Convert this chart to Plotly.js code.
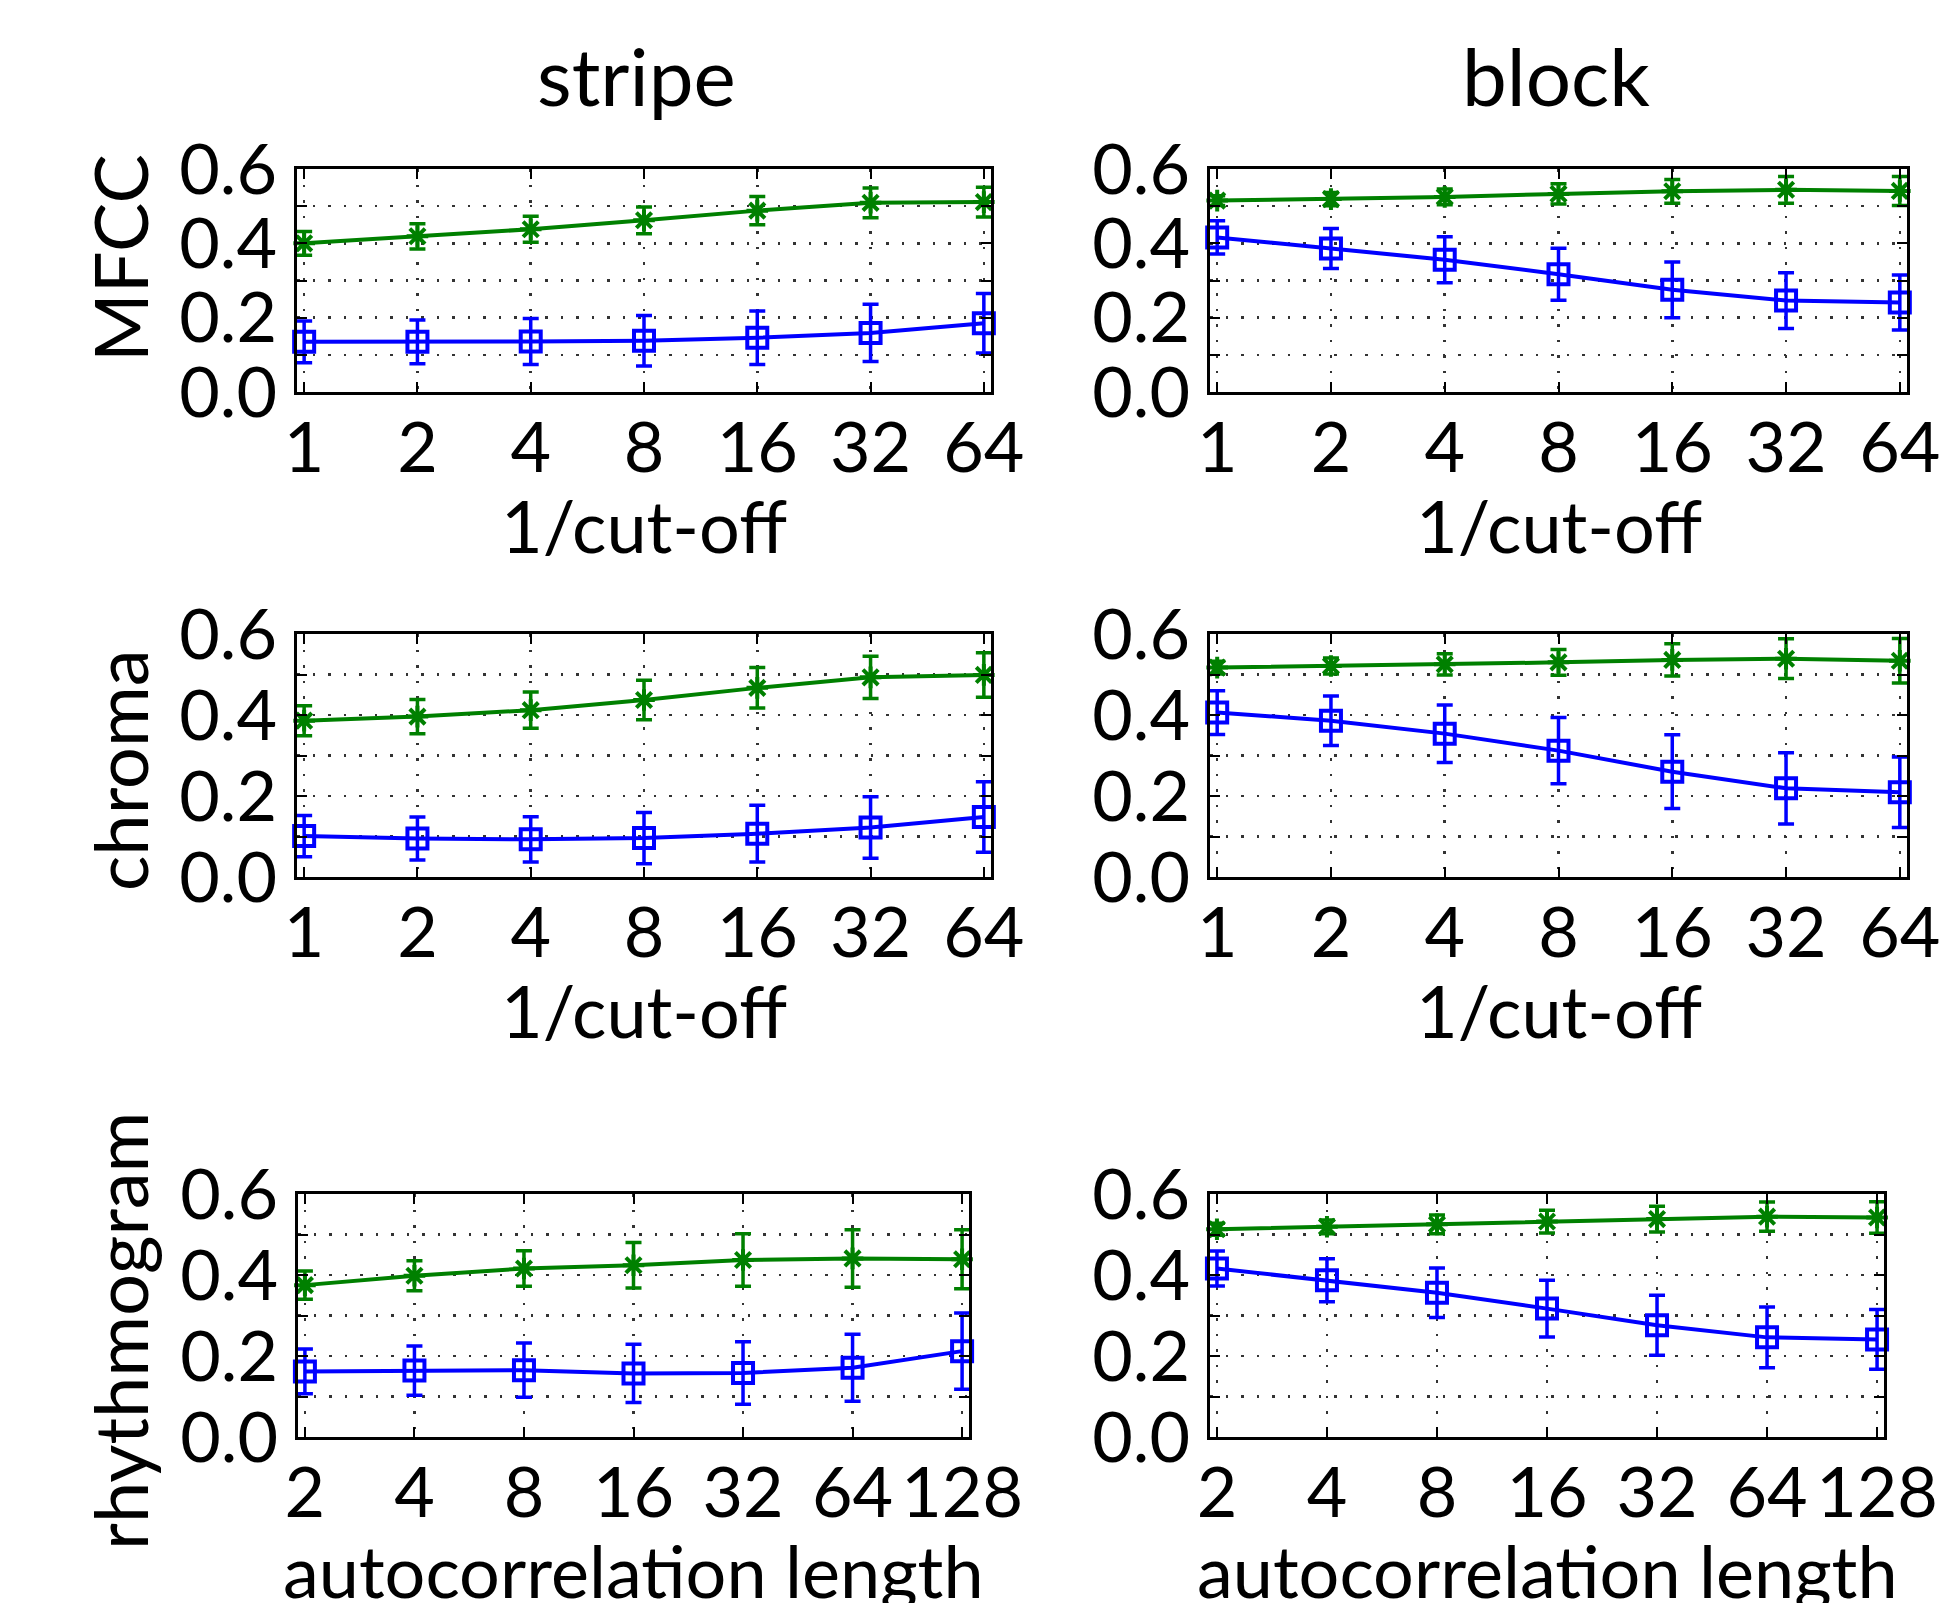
<!DOCTYPE html>
<html>
<head>
<meta charset="utf-8">
<script src="https://cdn.plot.ly/plotly-3.0.1.min.js"></script>
<style>html,body{margin:0;padding:0;background:#fff;}#plot{width:1943px;height:1603px;}</style>
</head>
<body>
<div id="plot"></div>
<script>
// ---- data ----
const cutoffX = [1, 2, 4, 8, 16, 32, 64];
const cutoffLabels = ['1', '2', '4', '8', '16', '32', '64'];
const autoX = [2, 4, 8, 16, 32, 64, 128];
const autoLabels = ['2', '4', '8', '16', '32', '64', '128'];
const yTickVals = [0, 0.1, 0.2, 0.3, 0.4, 0.5, 0.6];
const yTickLabels = ['0.0', '', '0.2', '', '0.4', '', '0.6'];

const columnTitles = ['stripe', 'block'];
const rowTitles = ['MFCC', 'chroma', 'rhythmogram'];
const xTitles = ['1/cut-off', '1/cut-off', 'autocorrelation length'];

// MFCC
const mfccStripeGreen = [0.400, 0.419, 0.438, 0.462, 0.488, 0.509, 0.511];
const mfccStripeGreenErr = [0.032, 0.034, 0.035, 0.036, 0.038, 0.040, 0.040];
const mfccStripeBlue = [0.135, 0.135, 0.136, 0.138, 0.146, 0.159, 0.185];
const mfccStripeBlueErr = [0.056, 0.059, 0.062, 0.068, 0.072, 0.077, 0.080];
const mfccBlockGreen = [0.515, 0.519, 0.525, 0.533, 0.540, 0.544, 0.541];
const mfccBlockGreenErr = [0.013, 0.018, 0.021, 0.027, 0.032, 0.036, 0.039];
const mfccBlockBlue = [0.416, 0.386, 0.356, 0.317, 0.275, 0.246, 0.241];
const mfccBlockBlueErr = [0.045, 0.054, 0.062, 0.070, 0.075, 0.075, 0.074];
// chroma
const chromaStripeGreen = [0.386, 0.396, 0.412, 0.437, 0.467, 0.493, 0.499];
const chromaStripeGreenErr = [0.037, 0.042, 0.045, 0.049, 0.050, 0.052, 0.055];
const chromaStripeBlue = [0.101, 0.095, 0.093, 0.096, 0.107, 0.122, 0.148];
const chromaStripeBlueErr = [0.051, 0.053, 0.056, 0.063, 0.070, 0.076, 0.087];
const chromaBlockGreen = [0.517, 0.521, 0.525, 0.530, 0.536, 0.539, 0.534];
const chromaBlockGreenErr = [0.016, 0.020, 0.026, 0.032, 0.040, 0.049, 0.055];
const chromaBlockBlue = [0.406, 0.386, 0.354, 0.312, 0.260, 0.219, 0.209];
const chromaBlockBlueErr = [0.054, 0.061, 0.071, 0.082, 0.091, 0.088, 0.087];
// rhythmogram
const rhythmStripeGreen = [0.375, 0.398, 0.416, 0.424, 0.437, 0.441, 0.439];
const rhythmStripeGreenErr = [0.035, 0.037, 0.044, 0.056, 0.065, 0.071, 0.073];
const rhythmStripeBlue = [0.162, 0.164, 0.165, 0.157, 0.158, 0.171, 0.212];
const rhythmStripeBlueErr = [0.055, 0.061, 0.067, 0.072, 0.077, 0.083, 0.094];
const rhythmBlockGreen = [0.513, 0.519, 0.525, 0.532, 0.538, 0.544, 0.542];
const rhythmBlockGreenErr = [0.015, 0.017, 0.023, 0.028, 0.032, 0.036, 0.039];
const rhythmBlockBlue = [0.416, 0.387, 0.356, 0.317, 0.276, 0.246, 0.241];
const rhythmBlockBlueErr = [0.043, 0.053, 0.061, 0.070, 0.074, 0.075, 0.074];

// ---- styling ----
const GREEN = '#008000';
const BLUE = '#0000ff';
const FONT = 'Lato, "Open Sans", sans-serif';
const W = 1943, H = 1603;

const panels = [
  {x: cutoffX, labels: cutoffLabels, g: mfccStripeGreen, ge: mfccStripeGreenErr, b: mfccStripeBlue, be: mfccStripeBlueErr,
   px: [297, 991], py: [169, 392]},
  {x: cutoffX, labels: cutoffLabels, g: mfccBlockGreen, ge: mfccBlockGreenErr, b: mfccBlockBlue, be: mfccBlockBlueErr,
   px: [1210, 1907], py: [169, 392]},
  {x: cutoffX, labels: cutoffLabels, g: chromaStripeGreen, ge: chromaStripeGreenErr, b: chromaStripeBlue, be: chromaStripeBlueErr,
   px: [297, 991], py: [634, 877]},
  {x: cutoffX, labels: cutoffLabels, g: chromaBlockGreen, ge: chromaBlockGreenErr, b: chromaBlockBlue, be: chromaBlockBlueErr,
   px: [1210, 1907], py: [634, 877]},
  {x: autoX, labels: autoLabels, g: rhythmStripeGreen, ge: rhythmStripeGreenErr, b: rhythmStripeBlue, be: rhythmStripeBlueErr,
   px: [298, 969], py: [1194, 1437]},
  {x: autoX, labels: autoLabels, g: rhythmBlockGreen, ge: rhythmBlockGreenErr, b: rhythmBlockBlue, be: rhythmBlockBlueErr,
   px: [1210, 1884], py: [1194, 1437]}
];

const traces = [];
const layout = {
  width: W, height: H,
  margin: {l: 0, r: 0, t: 0, b: 0},
  paper_bgcolor: '#fff', plot_bgcolor: '#fff',
  showlegend: false,
  font: {family: FONT, color: '#000', size: 70},
  annotations: []
};

panels.forEach((p, i) => {
  const n = i + 1;
  const xa = 'x' + (n === 1 ? '' : n), ya = 'y' + (n === 1 ? '' : n);
  const xkey = 'xaxis' + (n === 1 ? '' : n), ykey = 'yaxis' + (n === 1 ? '' : n);
  traces.push({
    type: 'scatter', mode: 'lines+markers', x: p.x, y: p.b, xaxis: xa, yaxis: ya,
    line: {color: BLUE, width: 4}, cliponaxis: false,
    marker: {symbol: 'square-open', size: 20, color: BLUE, line: {color: BLUE, width: 4}},
    error_y: {type: 'data', array: p.be, visible: true, color: BLUE, thickness: 3.5, width: 8}
  });
  traces.push({
    type: 'scatter', mode: 'lines+markers', x: p.x, y: p.g, xaxis: xa, yaxis: ya,
    line: {color: GREEN, width: 4}, cliponaxis: false,
    marker: {symbol: 'asterisk-open', size: 18, color: GREEN, line: {color: GREEN, width: 4}},
    error_y: {type: 'data', array: p.ge, visible: true, color: GREEN, thickness: 3.5, width: 8}
  });
  const lx0 = Math.log10(p.x[0]), lx1 = Math.log10(p.x[p.x.length - 1]);
  layout[xkey] = {
    type: 'log', anchor: ya,
    domain: [p.px[0] / W, p.px[1] / W],
    range: [lx0 - 0.019, lx1 + 0.019],
    tickmode: 'array', tickvals: p.x, ticktext: p.labels, tickangle: 0,
    ticks: 'inside', ticklen: 10, tickwidth: 2, tickcolor: '#000',
    showline: true, linewidth: 3, linecolor: '#000', mirror: 'ticks',
    showgrid: true, gridcolor: '#333', gridwidth: 2.5, griddash: '2.5px,13px',
    zeroline: false, ticklabelstandoff: -7,
    tickfont: {family: FONT, size: 70, color: '#000'}
  };
  layout[ykey] = {
    anchor: xa,
    domain: [1 - p.py[1] / H, 1 - p.py[0] / H],
    range: [0, 0.6],
    tickmode: 'array', tickvals: yTickVals, ticktext: yTickLabels,
    ticks: 'inside', ticklen: 10, tickwidth: 2, tickcolor: '#000',
    showline: true, linewidth: 3, linecolor: '#000', mirror: 'ticks',
    showgrid: true, gridcolor: '#333', gridwidth: 2.5, griddash: '2.5px,13px',
    zeroline: false, ticklabelstandoff: 3,
    tickfont: {family: FONT, size: 70, color: '#000'}
  };
  // x-axis label
  layout.annotations.push({
    text: xTitles[Math.floor(i / 2)], xref: 'paper', yref: 'paper',
    x: (p.px[0] + p.px[1]) / 2 / W, y: 1 - (p.py[1] + 133) / H,
    xanchor: 'center', yanchor: 'middle', showarrow: false,
    font: {family: FONT, size: 72, color: '#000'}
  });
});

// column titles
[[636, 'stripe'], [1556, 'block']].forEach(([cx], k) => {
  layout.annotations.push({
    text: columnTitles[k], xref: 'paper', yref: 'paper',
    x: cx / W, y: 1 - 75 / H, xanchor: 'center', yanchor: 'middle', showarrow: false,
    font: {family: FONT, size: 80, color: '#000'}
  });
});
// row titles
[258, 770, 1331].forEach((cy, k) => {
  layout.annotations.push({
    text: rowTitles[k], xref: 'paper', yref: 'paper', textangle: -90,
    x: 119 / W, y: 1 - cy / H, xanchor: 'center', yanchor: 'middle', showarrow: false,
    font: {family: FONT, size: 74, color: '#000'}
  });
});

Plotly.newPlot('plot', traces, layout, {staticPlot: true, displayModeBar: false});
</script>
</body>
</html>
